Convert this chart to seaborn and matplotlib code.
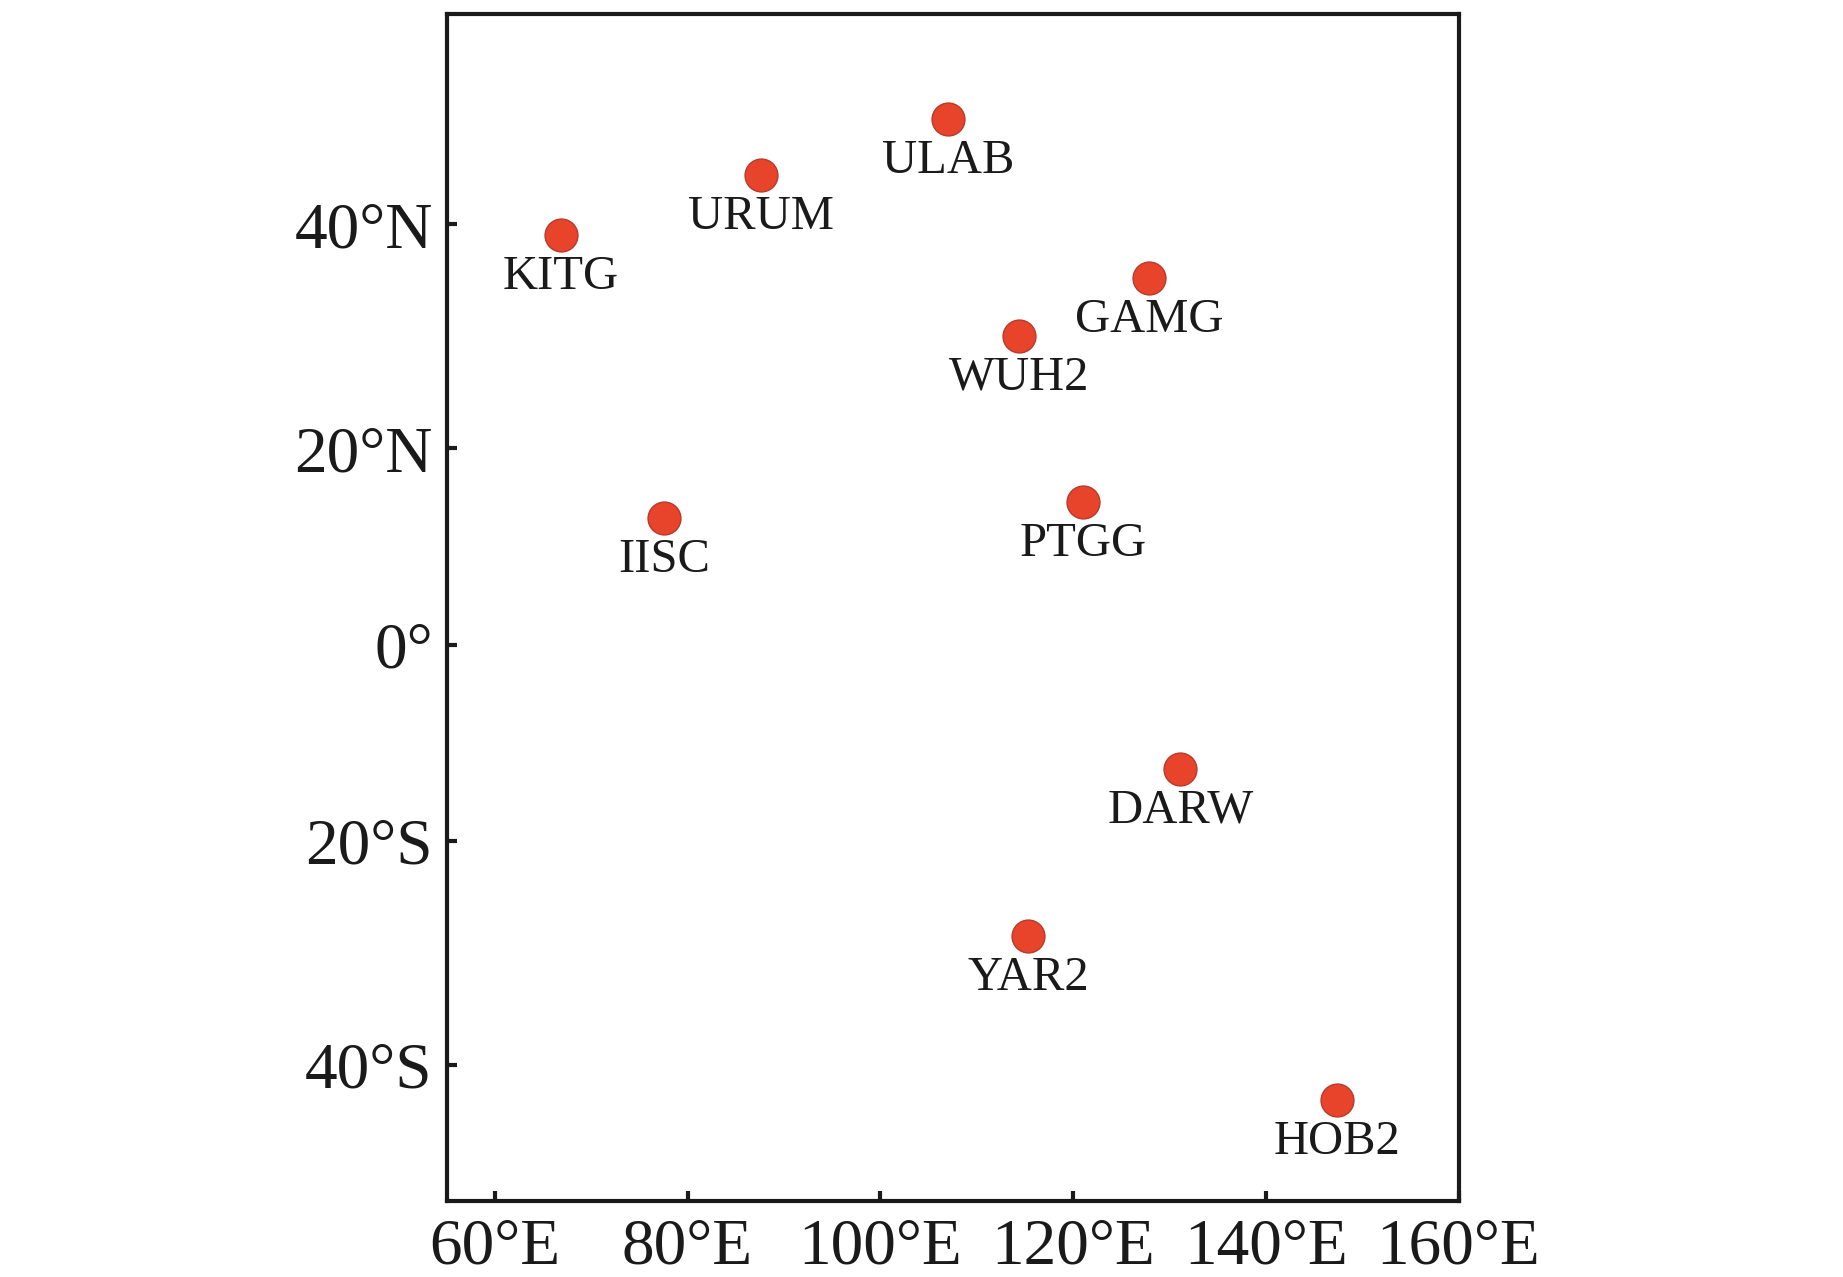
import numpy as np
import pandas as pd
import seaborn as sns
import matplotlib.pyplot as plt

# station names and positions (lon E, lat N)
stations = ["KITG", "URUM", "ULAB", "GAMG", "WUH2", "IISC", "PTGG", "DARW", "YAR2", "HOB2"]
lons = [66.89, 87.60, 107.05, 127.92, 114.36, 77.57, 121.08, 131.13, 115.35, 147.44]
lats = [39.13, 43.80, 47.87, 35.59, 30.53, 13.02, 14.64, -12.84, -29.05, -42.80]

xticks = [60, 80, 100, 120, 140, 160]
xlabels = ["60°E", "80°E", "100°E", "120°E", "140°E", "160°E"]
yticks = [-40, -20, 0, 20, 40]
ylabels = ["40°S", "20°S", "0°", "20°N", "40°N"]


def merc(lat):
    lat = np.clip(np.asarray(lat, dtype=float), -85, 85)
    return np.degrees(np.log(np.tan(np.pi / 4 + np.radians(lat) / 2)))


def merc_inv(y):
    y = np.asarray(y, dtype=float)
    return np.degrees(2 * np.arctan(np.exp(np.radians(y))) - np.pi / 2)


sns.set_style("ticks")
plt.rcParams['font.family'] = ['Liberation Serif', 'DejaVu Serif']

df = pd.DataFrame({"station": stations, "lon": lons, "lat": lats})

fig = plt.figure(figsize=(18.43, 12.77), dpi=100)
ax = fig.add_axes([0.2423, 0.0595, 0.7914 - 0.2423, 0.989 - 0.0595])

sns.scatterplot(data=df, x="lon", y="lat", ax=ax, s=560, color="#e8432b",
                edgecolor="#b83a2a", linewidth=1.0, zorder=3)

for _, r in df.iterrows():
    ax.annotate(r["station"], (r["lon"], r["lat"]), xytext=(0, -30),
                textcoords="offset points", ha="center", va="center",
                fontsize=35, color="#1a1a1a")

# mercator latitude axis
ax.set_yscale("function", functions=(merc, merc_inv))
ax.set_xlim(55, 160)
ax.set_ylim(-50, 54.7)
ax.set_xticks(xticks)
ax.set_xticklabels(xlabels)
ax.set_yticks(yticks)
ax.set_yticklabels(ylabels)
ax.minorticks_off()
ax.tick_params(direction="in", length=7, width=3, labelsize=47, colors="#1a1a1a", pad=10)
ax.tick_params(axis="x", pad=12)
for sp in ax.spines.values():
    sp.set_linewidth(3)
    sp.set_color("#1a1a1a")
ax.set_xlabel("")
ax.set_ylabel("")

fig.savefig("out.png", dpi=100)
